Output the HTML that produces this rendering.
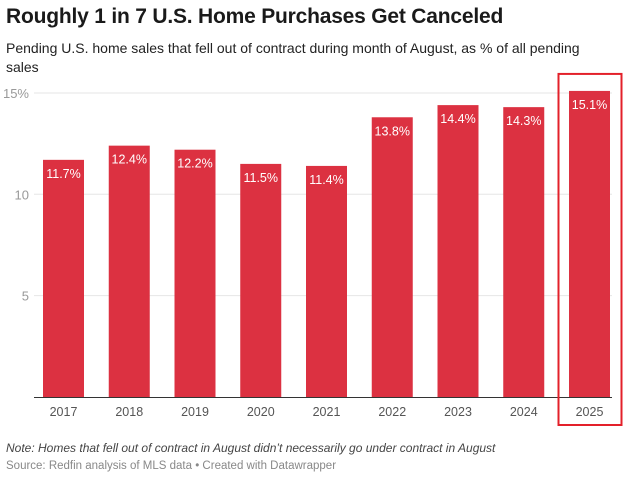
<!DOCTYPE html>
<html><head><meta charset="utf-8"><style>
body{margin:0;width:624px;height:480px;background:#fff;font-family:"Liberation Sans",sans-serif;position:relative;overflow:hidden}
.t{position:absolute;left:6px;top:5px;font-size:21px;font-weight:bold;color:#1a1a1a;letter-spacing:-0.2px}
.s{position:absolute;left:6px;top:39px;width:610px;font-size:14px;line-height:19px;color:#222}
.n{position:absolute;left:6px;top:441px;font-size:12px;font-style:italic;color:#444}
.src{position:absolute;left:6px;top:460px;font-size:11.5px;color:#888}
</style></head><body>
<div class="t">Roughly 1 in 7 U.S. Home Purchases Get Canceled</div>
<div class="s">Pending U.S. home sales that fell out of contract during month of August, as % of all pending sales</div>
<svg id="c" width="624" height="480" style="position:absolute;left:0;top:0"></svg>
<div class="n">Note: Homes that fell out of contract in August didn’t necessarily go under contract in August</div>
<div class="src">Source: Redfin analysis of MLS data • Created with Datawrapper</div>
<script>
const categories=["2017","2018","2019","2020","2021","2022","2023","2024","2025"];
const values=[11.7,12.4,12.2,11.5,11.4,13.8,14.4,14.3,15.1];
const labels=["11.7%","12.4%","12.2%","11.5%","11.4%","13.8%","14.4%","14.3%","15.1%"];
const ticks=[5,10,15];
const tickLabels=["5","10","15%"];
const ns="http://www.w3.org/2000/svg",svg=document.getElementById('c');
const y=v=>397-v*20.27, x=i=>63.5+i*65.75, bw=41;
function mk(t,a){const e=document.createElementNS(ns,t);for(const k in a)e.setAttribute(k,a[k]);svg.appendChild(e);return e;}
ticks.forEach((t,i)=>{
 const l=mk('line',{x1:34,x2:612,y1:y(t),y2:y(t),stroke:'#e6e6e6','stroke-width':1});
 
 
 const tx=mk('text',{x:29,y:y(t)+5,'text-anchor':'end','font-size':13,fill:'#999','font-family':'Liberation Sans'});
 tx.textContent=tickLabels[i];
 
 
});
values.forEach((v,i)=>{
 const r=mk('rect',{x:x(i)-bw/2,y:y(v),width:bw,height:y(0)-y(v),fill:'#dc3141'});
 
 
 const t=mk('text',{x:x(i),y:y(v)+18,'text-anchor':'middle','font-size':12.5,fill:'#fff','font-family':'Liberation Sans'});
 t.textContent=labels[i];
 
 
 const c=mk('text',{x:x(i),y:416,'text-anchor':'middle','font-size':12.5,fill:'#555','font-family':'Liberation Sans'});
 c.textContent=categories[i];
 
 
});
const ax=mk('line',{x1:34,x2:612,y1:397.5,y2:397.5,stroke:'#333','stroke-width':1});


const last=values.length-1;
const h=mk('rect',{x:x(last)-31,y:y(values[last])-17,width:63,height:425-(y(values[last])-17),fill:'none',stroke:'#e3202a','stroke-width':2});


</script>
</body></html>
